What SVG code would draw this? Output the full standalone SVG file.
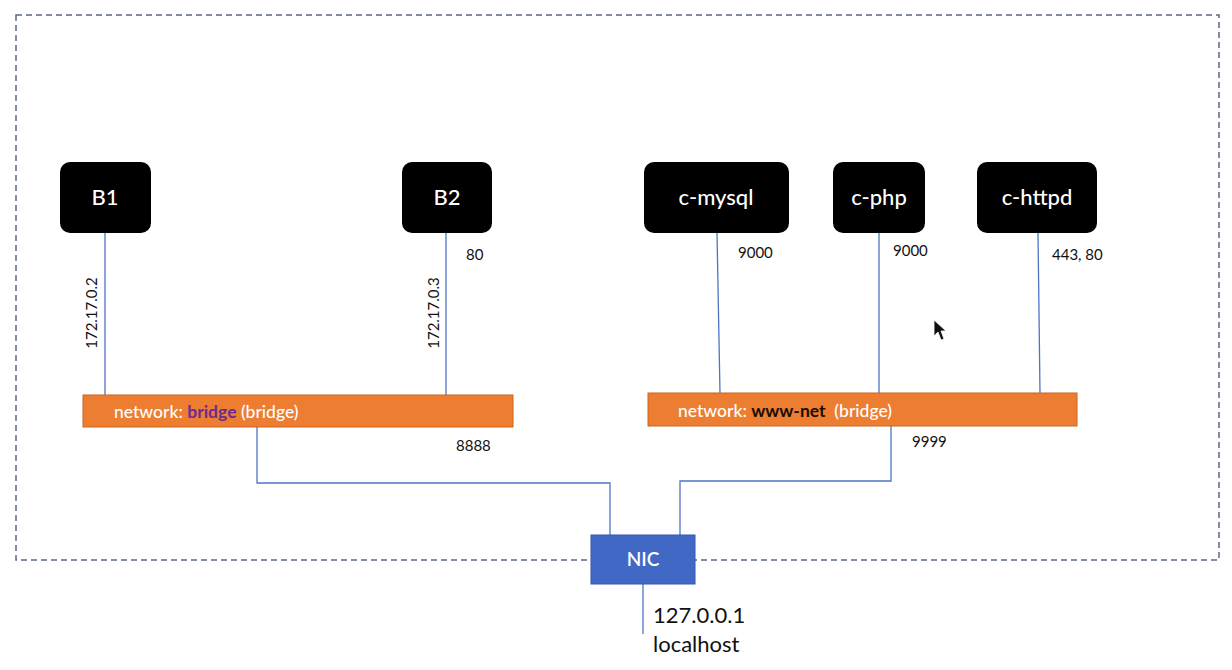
<svg xmlns="http://www.w3.org/2000/svg" width="1232" height="670" viewBox="0 0 1232 670">
<style>
.frame{fill:none;stroke:#5b6785;stroke-width:1.5;stroke-dasharray:6,4}
.node{fill:#000}
.ntext{fill:#fff;font-family:Lato,"Open Sans",sans-serif;font-size:22px;font-weight:500;text-anchor:middle}
.bar{fill:#ed7d31;stroke:#c9651f;stroke-width:1}
.btext{fill:#fff;font-family:Lato,"Open Sans",sans-serif;font-size:17.5px;font-weight:500;white-space:pre}
.wire{fill:none;stroke:#4f74c6;stroke-width:1.3}
.lbl{fill:#111;font-family:Lato,"Open Sans",sans-serif;font-size:15px}
.big{fill:#111;font-family:Lato,"Open Sans",sans-serif;font-size:22px}
</style>
<rect width="1232" height="670" fill="#fff"/>
<rect class="frame" x="16" y="15" width="1203" height="545"/>
<g id="connectors">
<line class="wire" x1="105" y1="233" x2="105" y2="395"/>
<line class="wire" x1="446" y1="233" x2="446" y2="395"/>
<line class="wire" x1="717" y1="233" x2="720" y2="393"/>
<line class="wire" x1="879" y1="233" x2="879" y2="393"/>
<line class="wire" x1="1038" y1="233" x2="1040" y2="393"/>
<polyline class="wire" points="257,427 257,483 610,483 610,535"/>
<polyline class="wire" points="891,426 891,481 680,481 680,535"/>
<line class="wire" x1="643" y1="584" x2="643" y2="634"/>
</g>
<g id="B1"><rect class="node" x="60" y="162" width="91" height="71" rx="10"/><text class="ntext" x="105" y="205">B1</text></g>
<g id="B2"><rect class="node" x="402" y="162" width="90" height="71" rx="10"/><text class="ntext" x="447" y="205">B2</text></g>
<g id="c-mysql"><rect class="node" x="644" y="162" width="145" height="71" rx="10"/><text class="ntext" x="716" y="205">c-mysql</text></g>
<g id="c-php"><rect class="node" x="833" y="162" width="92" height="71" rx="10"/><text class="ntext" x="879" y="205">c-php</text></g>
<g id="c-httpd"><rect class="node" x="977" y="162" width="120" height="71" rx="10"/><text class="ntext" x="1037" y="205">c-httpd</text></g>
<g id="bridge-net"><rect class="bar" x="83" y="395" width="430" height="32"/><text class="btext" x="114" y="418">network: <tspan fill="#6b2c91" font-weight="700">bridge</tspan> (bridge)</text></g>
<g id="www-net"><rect class="bar" x="648" y="393" width="429" height="33"/><text class="btext" x="678" y="417">network: <tspan fill="#1a0d05" font-weight="700">www-net</tspan>  (bridge)</text></g>
<g id="NIC"><rect x="591" y="535" width="104" height="49" fill="#4268c6" stroke="#3556b0" stroke-width="1"/><text x="643" y="566" fill="#fff" font-family="Lato,'Open Sans',sans-serif" font-size="19" font-weight="600" text-anchor="middle">NIC</text></g>
<g id="labels">
<text class="lbl" transform="translate(97,313) rotate(-90)" text-anchor="middle">172.17.0.2</text>
<text class="lbl" transform="translate(439,313) rotate(-90)" text-anchor="middle">172.17.0.3</text>
<text class="lbl" x="466" y="260">80</text>
<text class="lbl" x="738" y="258">9000</text>
<text class="lbl" x="893" y="256">9000</text>
<text class="lbl" x="1052" y="260">443, 80</text>
<text class="lbl" x="456" y="451">8888</text>
<text class="lbl" x="912" y="447">9999</text>
<text class="big" x="653" y="623">127.0.0.1</text>
<text class="big" x="653" y="652">localhost</text>
</g>
<path d="M934,320 L934,336 L938,332 L941,340 L944,339 L941,331 L946,331 Z" fill="#111" stroke="#fff" stroke-width="0.8"/>
</svg>
